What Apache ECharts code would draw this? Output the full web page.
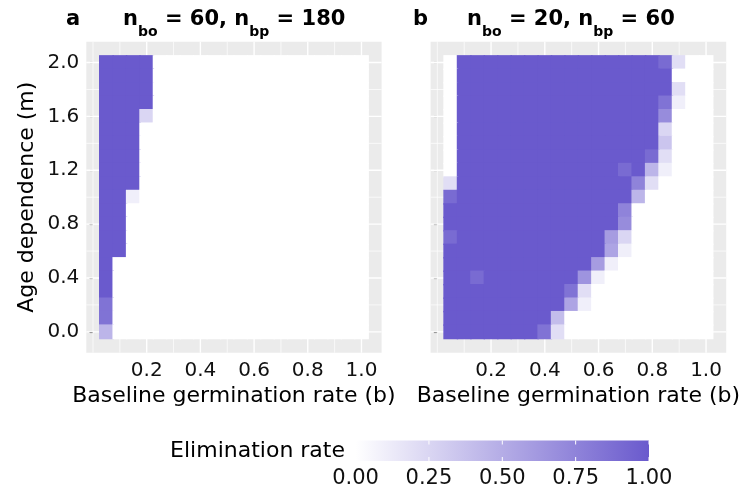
<!DOCTYPE html>
<html><head><meta charset="utf-8">
<script src="https://cdn.jsdelivr.net/npm/echarts@6/dist/echarts.min.js"></script>
<style>html,body{margin:0;padding:0;background:#fff}#c{width:745px;height:493px}</style>
</head><body><div id="c"></div>
<script>
// ---------- data ----------
const xCenters = [0.05,0.10,0.15,0.20,0.25,0.30,0.35,0.40,0.45,0.50,0.55,0.60,0.65,0.70,0.75,0.80,0.85,0.90,0.95,1.00];
const yCenters = [2.0,1.9,1.8,1.7,1.6,1.5,1.4,1.3,1.2,1.1,1.0,0.9,0.8,0.7,0.6,0.5,0.4,0.3,0.2,0.1,0.0]; // rows top -> bottom
// elimination rate, panel a (n_bo = 60, n_bp = 180)
const panelA = [
  [1,1,1,1,0,0,0,0,0,0,0,0,0,0,0,0,0,0,0,0],
  [1,1,1,1,0,0,0,0,0,0,0,0,0,0,0,0,0,0,0,0],
  [1,1,1,1,0,0,0,0,0,0,0,0,0,0,0,0,0,0,0,0],
  [1,1,1,1,0,0,0,0,0,0,0,0,0,0,0,0,0,0,0,0],
  [1,1,1,0.25,0,0,0,0,0,0,0,0,0,0,0,0,0,0,0,0],
  [1,1,1,0,0,0,0,0,0,0,0,0,0,0,0,0,0,0,0,0],
  [1,1,1,0,0,0,0,0,0,0,0,0,0,0,0,0,0,0,0,0],
  [1,1,1,0,0,0,0,0,0,0,0,0,0,0,0,0,0,0,0,0],
  [1,1,1,0,0,0,0,0,0,0,0,0,0,0,0,0,0,0,0,0],
  [1,1,1,0,0,0,0,0,0,0,0,0,0,0,0,0,0,0,0,0],
  [1,1,0.1,0,0,0,0,0,0,0,0,0,0,0,0,0,0,0,0,0],
  [1,1,0,0,0,0,0,0,0,0,0,0,0,0,0,0,0,0,0,0],
  [1,1,0,0,0,0,0,0,0,0,0,0,0,0,0,0,0,0,0,0],
  [1,1,0,0,0,0,0,0,0,0,0,0,0,0,0,0,0,0,0,0],
  [1,1,0,0,0,0,0,0,0,0,0,0,0,0,0,0,0,0,0,0],
  [1,0,0,0,0,0,0,0,0,0,0,0,0,0,0,0,0,0,0,0],
  [1,0,0,0,0,0,0,0,0,0,0,0,0,0,0,0,0,0,0,0],
  [1,0,0,0,0,0,0,0,0,0,0,0,0,0,0,0,0,0,0,0],
  [0.85,0,0,0,0,0,0,0,0,0,0,0,0,0,0,0,0,0,0,0],
  [0.85,0,0,0,0,0,0,0,0,0,0,0,0,0,0,0,0,0,0,0],
  [0.45,0,0,0,0,0,0,0,0,0,0,0,0,0,0,0,0,0,0,0]
];
// elimination rate, panel b (n_bo = 20, n_bp = 60)
const panelB = [
  [0,1,1,1,1,1,1,1,1,1,1,1,1,1,1,1,0.9,0.2,0,0],
  [0,1,1,1,1,1,1,1,1,1,1,1,1,1,1,1,1,0,0,0],
  [0,1,1,1,1,1,1,1,1,1,1,1,1,1,1,1,1,0.2,0,0],
  [0,1,1,1,1,1,1,1,1,1,1,1,1,1,1,1,0.85,0.1,0,0],
  [0,1,1,1,1,1,1,1,1,1,1,1,1,1,1,1,0.7,0,0,0],
  [0,1,1,1,1,1,1,1,1,1,1,1,1,1,1,1,0.25,0,0,0],
  [0,1,1,1,1,1,1,1,1,1,1,1,1,1,1,1,0.35,0,0,0],
  [0,1,1,1,1,1,1,1,1,1,1,1,1,1,1,0.9,0.2,0,0,0],
  [0,1,1,1,1,1,1,1,1,1,1,1,1,0.9,1,0.45,0.1,0,0,0],
  [0.2,1,1,1,1,1,1,1,1,1,1,1,1,1,0.75,0.2,0,0,0,0],
  [0.9,1,1,1,1,1,1,1,1,1,1,1,1,1,0.45,0,0,0,0,0],
  [1,1,1,1,1,1,1,1,1,1,1,1,1,0.75,0,0,0,0,0,0],
  [1,1,1,1,1,1,1,1,1,1,1,1,1,0.7,0,0,0,0,0,0],
  [0.9,1,1,1,1,1,1,1,1,1,1,1,0.6,0.25,0,0,0,0,0,0],
  [1,1,1,1,1,1,1,1,1,1,1,1,0.55,0.1,0,0,0,0,0,0],
  [1,1,1,1,1,1,1,1,1,1,1,0.6,0.1,0,0,0,0,0,0,0],
  [1,1,0.9,1,1,1,1,1,1,1,0.65,0.1,0,0,0,0,0,0,0,0],
  [1,1,1,1,1,1,1,1,1,0.85,0.2,0,0,0,0,0,0,0,0,0],
  [1,1,1,1,1,1,1,1,1,0.55,0.1,0,0,0,0,0,0,0,0,0],
  [1,1,1,1,1,1,1,1,0.4,0,0,0,0,0,0,0,0,0,0,0],
  [1,1,1,1,1,1,1,0.85,0.2,0,0,0,0,0,0,0,0,0,0,0]
];
const xTicks = [0.2,0.4,0.6,0.8,1.0];
const yTicks = [0.0,0.4,0.8,1.2,1.6,2.0];
const xMinorGrid = [0.0,0.1,0.3,0.5,0.7,0.9];
const yMinorGrid = [0.2,0.6,1.0,1.4,1.8];
const legendTicks = [0,0.25,0.5,0.75,1];
const panelLetters = ['a','b'];
const panelTitles = [
  [['n',0],['bo',1],[' = 60, n',0],['bp',1],[' = 180',0]],
  [['n',0],['bo',1],[' = 20, n',0],['bp',1],[' = 60',0]]
];
const xName = 'Baseline germination rate (b)';
const yName = 'Age dependence (m)';
const legendTitle = 'Elimination rate';
const colorLow = '#FFFFFF', colorHigh = '#6A5ACD';

// ---------- layout / style ----------
const FONT = '"DejaVu Sans", sans-serif';
const cellW = 0.05, cellH = 0.1;
const grids = [
  {left: 86.3, top: 41.7, width: 295.3, height: 311},
  {left: 430.6, top: 41.7, width: 295.6, height: 311}
];
const titlePos = [{letterX: 66, nX: 123}, {letterX: 413, nX: 467}];

function toItems(mat) {
  const out = [];
  mat.forEach((row, r) => row.forEach((v, c) => out.push([xCenters[c], yCenters[r], v])));
  return out;
}
function colorOf(v) { return echarts.color.lerp(Math.max(0, Math.min(1, v)), [colorLow, colorHigh]); }

const chart = echarts.init(document.getElementById('c'), null, {renderer: 'canvas'});

const xAxes = [], yAxes = [], series = [];
[0,1].forEach(i => {
  xAxes.push({
    gridIndex: i, type: 'value', min: -0.025, max: 1.075,
    axisLine: {show: false}, splitLine: {show: false},
    axisTick: {show: true, length: 3.5, lineStyle: {color: '#333', width: 1.1}, customValues: xTicks},
    axisLabel: {show: true, customValues: xTicks, margin: 8, color: '#111', fontSize: 20, fontFamily: FONT,
      formatter: v => v.toFixed(1)},
    name: xName, nameLocation: 'middle', nameGap: 33,
    nameTextStyle: {color: '#000', fontSize: 22, fontFamily: FONT}
  });
  yAxes.push({
    gridIndex: i, type: 'value', min: -0.155, max: 2.155,
    axisLine: {show: false}, splitLine: {show: false},
    axisTick: {show: true, length: 3.5, lineStyle: {color: '#333', width: 1.1}, customValues: yTicks},
    axisLabel: {show: i === 0, customValues: yTicks, margin: 7, color: '#111', fontSize: 20, fontFamily: FONT,
      formatter: v => v.toFixed(1)},
    name: i === 0 ? yName : '', nameLocation: 'middle', nameGap: 48, nameRotate: 90,
    nameTextStyle: {color: '#000', fontSize: 22, fontFamily: FONT}
  });
  // background gridlines (vertical)
  const vData = xTicks.map(x => [x, 1, 1.4]).concat(xMinorGrid.map(x => [x, 1, 0.7]));
  series.push({
    type: 'custom', xAxisIndex: i, yAxisIndex: i, z: 1, silent: true,
    data: vData,
    renderItem: (params, api) => {
      const cs = params.coordSys;
      const px = api.coord([api.value(0), 0])[0];
      return {type: 'line', shape: {x1: px, y1: cs.y, x2: px, y2: cs.y + cs.height},
        style: {stroke: '#fff', lineWidth: api.value(2)}};
    }
  });
  const hData = yTicks.map(y => [0.5, y, 1.4]).concat(yMinorGrid.map(y => [0.5, y, 0.7]));
  series.push({
    type: 'custom', xAxisIndex: i, yAxisIndex: i, z: 1, silent: true,
    data: hData,
    renderItem: (params, api) => {
      const cs = params.coordSys;
      const py = api.coord([0, api.value(1)])[1];
      return {type: 'line', shape: {x1: cs.x, y1: py, x2: cs.x + cs.width, y2: py},
        style: {stroke: '#fff', lineWidth: api.value(2)}};
    }
  });
  // tiles: white base layer covering the tile area, then coloured tiles (slightly padded to avoid seams)
  series.push({
    type: 'custom', xAxisIndex: i, yAxisIndex: i, z: 3, silent: true,
    data: toItems(i === 0 ? panelA : panelB),
    renderItem: (params, api) => {
      const x = api.value(0), y = api.value(1), v = api.value(2);
      const p1 = api.coord([x - cellW / 2, y + cellH / 2]);
      const p2 = api.coord([x + cellW / 2, y - cellH / 2]);
      const c = colorOf(v);
      const pad = 0.7;
      return {type: 'rect', shape: {x: p1[0] - pad, y: p1[1] - pad, width: p2[0] - p1[0] + 2 * pad, height: p2[1] - p1[1] + 2 * pad},
        style: {fill: c}};
    }
  });
});

// ---------- titles & legend as graphic text ----------
const mctx = document.createElement('canvas').getContext('2d');
function measure(t, size) { mctx.font = 'bold ' + size + 'px "DejaVu Sans"'; return mctx.measureText(t).width; }
const graphics = [];
const mainSize = 21, subSize = 14;
[0,1].forEach(i => {
  graphics.push({type: 'text', x: titlePos[i].letterX, y: 20, style: {text: panelLetters[i], fontSize: mainSize,
    fontWeight: 'bold', fontFamily: FONT, fill: '#000', verticalAlign: 'middle', align: 'left'}});
  let cx = titlePos[i].nX;
  panelTitles[i].forEach(([t, sub]) => {
    const size = sub ? subSize : mainSize;
    graphics.push({type: 'text', x: cx, y: sub ? 32 : 20, style: {text: t, fontSize: size, fontWeight: 'bold',
      fontFamily: FONT, fill: '#000', verticalAlign: 'middle', align: 'left'}});
    cx += measure(t, size);
  });
});
// legend
const barX0 = 355.6, barX1 = 649, barY0 = 440.5, barY1 = 461;
graphics.push({type: 'text', x: 345, y: 451, style: {text: legendTitle, fontSize: 22, fontFamily: FONT, fill: '#000',
  align: 'right', verticalAlign: 'middle'}});
graphics.push({type: 'rect', shape: {x: barX0, y: barY0, width: barX1 - barX0, height: barY1 - barY0},
  style: {fill: new echarts.graphic.LinearGradient(0, 0, 1, 0, [{offset: 0, color: colorLow}, {offset: 1, color: colorHigh}])}});
legendTicks.forEach(t => {
  const px = barX0 + t * (barX1 - barX0);
  graphics.push({type: 'line', shape: {x1: px, y1: barY0, x2: px, y2: barY0 + 4}, style: {stroke: '#fff', lineWidth: 1}});
  graphics.push({type: 'line', shape: {x1: px, y1: barY1 - 4, x2: px, y2: barY1}, style: {stroke: '#fff', lineWidth: 1}});
  graphics.push({type: 'text', x: px, y: 479, style: {text: t.toFixed(2), fontSize: 21, fontFamily: FONT, fill: '#111',
    align: 'center', verticalAlign: 'middle'}});
});

chart.setOption({
  animation: false,
  backgroundColor: '#fff',
  grid: grids.map(g => Object.assign({show: true, backgroundColor: '#EBEBEB', borderWidth: 0, containLabel: false}, g)),
  xAxis: xAxes, yAxis: yAxes, series: series,
  graphic: graphics
});
</script></body></html>
